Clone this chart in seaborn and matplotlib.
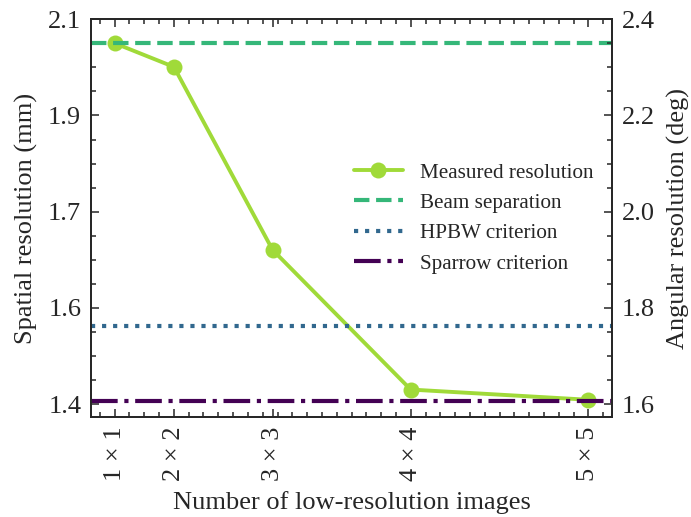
import numpy as np
import pandas as pd
import matplotlib
matplotlib.use("Agg")
import matplotlib.pyplot as plt
from matplotlib.ticker import FixedLocator, AutoMinorLocator, FormatStrFormatter
import seaborn as sns

# Sub-pixel shift grid: n x n low-resolution images
grid_n = [1, 2, 3, 4, 5]
grid_labels = ["1 × 1", "2 × 2", "3 × 3", "4 × 4", "5 × 5"]
measured_mm = [2.051, 2.008, 1.676, 1.4225, 1.404]

# Reference resolution limits (mm)
beam_separation_mm = 2.051
hpbw_mm = 1.537
sparrow_mm = 1.402

# Distance used to convert spatial (mm) to angular (deg) resolution
distance_mm = 50.0
angular_ticks = [1.6, 1.8, 2.0, 2.2, 2.4]
angular_limits = (1.573, 2.4)


def deg_to_mm(deg):
    return np.radians(np.asarray(deg, dtype=float)) * distance_mm


sns.set_style("ticks")
plt.rcParams["font.family"] = ["Liberation Serif", "DejaVu Serif"]

colors = {
    "measured": "#a0da39",
    "beam": "#35b779",
    "hpbw": "#31688e",
    "sparrow": "#440154",
}

df = pd.DataFrame({
    "images": [n * n for n in grid_n],
    "resolution": measured_mm,
})

fig = plt.figure(figsize=(6.91, 5.17), dpi=100)
ax = fig.add_axes([0.1317, 0.1934, 0.7540, 0.7693])

sns.lineplot(data=df, x="images", y="resolution", ax=ax, color=colors["measured"],
             marker="o", markersize=11.5, markeredgewidth=0, linewidth=2.8,
             label="Measured resolution")
ax.axhline(beam_separation_mm, color=colors["beam"], linestyle="--", linewidth=3,
           label="Beam separation")
ax.axhline(hpbw_mm, color=colors["hpbw"], linestyle=":", linewidth=3,
           label="HPBW criterion")
ax.axhline(sparrow_mm, color=colors["sparrow"], linestyle="-.", linewidth=3,
           label="Sparrow criterion")

ax.set_ylim(*deg_to_mm(angular_limits))
ax.yaxis.set_major_locator(FixedLocator(deg_to_mm(angular_ticks)))
ax.yaxis.set_major_formatter(FormatStrFormatter("%.1f"))
ax.yaxis.set_minor_locator(AutoMinorLocator())

ax.set_xticks([n * n for n in grid_n])
ax.set_xticklabels(grid_labels, rotation=90)
ax.xaxis.set_minor_locator(AutoMinorLocator())

ax.set_xlabel("Number of low-resolution images", fontsize=19, labelpad=7)
ax.set_ylabel("Spatial resolution (mm)", fontsize=19, labelpad=7)

ax2 = ax.twinx()
ax2.set_ylim(*angular_limits)
ax2.yaxis.set_major_locator(FixedLocator(angular_ticks))
ax2.yaxis.set_major_formatter(FormatStrFormatter("%.1f"))
ax2.yaxis.set_minor_locator(AutoMinorLocator())
ax2.set_ylabel("Angular resolution (deg)", fontsize=19, labelpad=9)

for a in (ax, ax2):
    for s in a.spines.values():
        s.set_linewidth(1.3)
        s.set_visible(True)
ax.tick_params(axis="both", which="both", direction="in", width=1.1,
               labelsize=19, pad=7, top=True, right=False)
ax.tick_params(which="major", length=6)
ax.tick_params(which="minor", length=3.5)
ax2.tick_params(axis="y", which="both", direction="in", width=1.1,
                labelsize=19, pad=7)
ax2.tick_params(which="major", length=6)
ax2.tick_params(which="minor", length=3.5)

ax.legend(loc="center right", frameon=False, fontsize=15.2, handlelength=2.3)

fig.savefig("out.png", dpi=100)
